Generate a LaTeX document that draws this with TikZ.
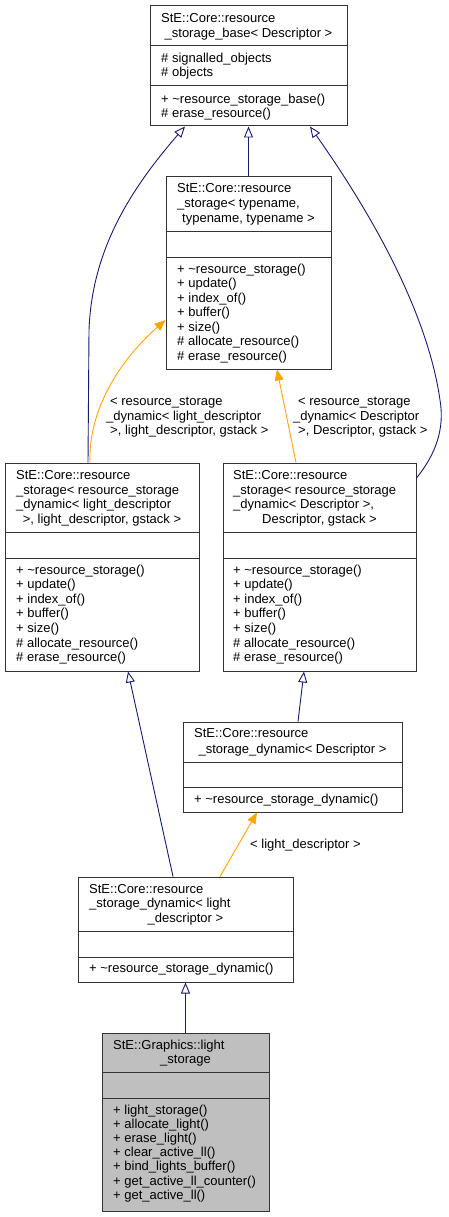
\documentclass[tikz,border=0pt]{standalone}
\usepackage{fontspec}
\setmainfont{Liberation Sans}
\usetikzlibrary{arrows.meta}
\definecolor{edgeblue}{HTML}{191970}
\definecolor{edgeorange}{HTML}{FFA500}
\definecolor{classgray}{HTML}{BFBFBF}
\newcommand{\rsmembers}{+ \textasciitilde resource\_storage(), + update(), + index\_of(), + buffer(), + size(), \# allocate\_resource(), \# erase\_resource()}
\newcommand{\lsmembers}{+ light\_storage(), + allocate\_light(), + erase\_light(), + clear\_active\_ll(), + bind\_lights\_buffer(), + get\_active\_ll\_counter(), + get\_active\_ll()}

\begin{document}
\begin{tikzpicture}[x=1pt,y=-1pt,font=\fontsize{13}{14.5}\selectfont,
  cls/.style={draw=black!80, line width=1pt, fill=white, inner sep=0pt},
  member/.style={anchor=mid west, inner sep=0pt, yshift=-1.5pt},
  ctitle/.style={anchor=mid, inner sep=0pt, yshift=-1.5pt},
  sep/.style={draw=black!80, line width=1pt},
  inh/.style={draw=edgeblue, line width=0.9pt, -{Triangle[open, length=11pt, width=9pt]}},
  tmpl/.style={draw=edgeorange, line width=0.9pt, -{Triangle[length=11pt, width=9pt, fill=edgeorange]}},
  lbl/.style={anchor=west, align=left, inner sep=0pt, yshift=-1.5pt}]
\useasboundingbox (0,0) rectangle (449,1217);

% resource_storage_base
\node[cls, minimum width=197pt, minimum height=120pt] (A) at (248.5,66) {};
\draw[sep] (A.west |- 0,46) -- (A.east |- 0,46);
\draw[sep] (A.west |- 0,86) -- (A.east |- 0,86);
\node[member] (A-t0) at (161,18) {StE::Core::resource};
\node[ctitle] (A-t1) at (248.5,33) {\_storage\_base< Descriptor >};
\node[member] (A-a0) at (161,58) {\# signalled\_objects};
\node[member] (A-a1) at (161,72) {\# objects};
\node[member] (A-m0) at (161,99) {+ \textasciitilde resource\_storage\_base()};
\node[member] (A-m1) at (161,113) {\# erase\_resource()};

% resource_storage< typename, ... >
\node[cls, minimum width=165pt, minimum height=192pt] (B) at (248.5,273) {};
\draw[sep] (B.west |- 0,231) -- (B.east |- 0,231);
\draw[sep] (B.west |- 0,257) -- (B.east |- 0,257);
\node[member] (B-t0) at (177,188) {StE::Core::resource};
\node[member] (B-t1) at (177,203) {\_storage< typename,};
\node[ctitle] (B-t2) at (248.5,218) {typename, typename >};
\foreach \m [count=\i from 0] in \rsmembers
  \node[member] (B-m\i) at (177,{269+14.5*\i}) {\m};

% resource_storage< ..light_descriptor.. >
\node[cls, minimum width=194pt, minimum height=208pt] (C) at (102,567) {};
\draw[sep] (C.west |- 0,532) -- (C.east |- 0,532);
\draw[sep] (C.west |- 0,558) -- (C.east |- 0,558);
\node[member] (C-t0) at (16,475) {StE::Core::resource};
\node[member] (C-t1) at (16,490) {\_storage< resource\_storage};
\node[member] (C-t2) at (16,504) {\_dynamic< light\_descriptor};
\node[ctitle] (C-t3) at (102,519) {>, light\_descriptor, gstack >};
\foreach \m [count=\i from 0] in \rsmembers
  \node[member] (C-m\i) at (16,{570+14.6*\i}) {\m};

% resource_storage< ..Descriptor.. >
\node[cls, minimum width=193pt, minimum height=208pt] (D) at (319.5,567) {};
\draw[sep] (D.west |- 0,532) -- (D.east |- 0,532);
\draw[sep] (D.west |- 0,558) -- (D.east |- 0,558);
\node[member] (D-t0) at (233,475) {StE::Core::resource};
\node[member] (D-t1) at (233,490) {\_storage< resource\_storage};
\node[member] (D-t2) at (233,504) {\_dynamic< Descriptor >,};
\node[ctitle] (D-t3) at (319.5,519) {Descriptor, gstack >};
\foreach \m [count=\i from 0] in \rsmembers
  \node[member] (D-m\i) at (233,{570+14.6*\i}) {\m};

% resource_storage_dynamic< Descriptor >
\node[cls, minimum width=219pt, minimum height=90pt] (E) at (292.5,767) {};
\draw[sep] (E.west |- 0,762) -- (E.east |- 0,762);
\draw[sep] (E.west |- 0,787) -- (E.east |- 0,787);
\node[member] (E-t0) at (194,733) {StE::Core::resource};
\node[ctitle] (E-t1) at (292.5,749) {\_storage\_dynamic< Descriptor >};
\node[member] (E-m0) at (194,799) {+ \textasciitilde resource\_storage\_dynamic()};

% resource_storage_dynamic< light_descriptor >
\node[cls, minimum width=215pt, minimum height=105pt] (F) at (185.5,929.5) {};
\draw[sep] (F.west |- 0,931) -- (F.east |- 0,931);
\draw[sep] (F.west |- 0,957) -- (F.east |- 0,957);
\node[member] (F-t0) at (89,889) {StE::Core::resource};
\node[member] (F-t1) at (89,903) {\_storage\_dynamic< light};
\node[ctitle] (F-t2) at (185.5,918) {\_descriptor >};
\node[member] (F-m0) at (89,968) {+ \textasciitilde resource\_storage\_dynamic()};

% light_storage
\node[cls, fill=classgray, minimum width=167pt, minimum height=178pt] (G) at (185.5,1122) {};
\draw[sep] (G.west |- 0,1072) -- (G.east |- 0,1072);
\draw[sep] (G.west |- 0,1098) -- (G.east |- 0,1098);
\node[member] (G-t0) at (113,1045) {StE::Graphics::light};
\node[ctitle] (G-t1) at (185.5,1059) {\_storage};
\foreach \m [count=\i from 0] in \lsmembers
  \node[member] (G-m\i) at (113,{1110+14.2*\i}) {\m};

% inheritance
\draw[inh] (B.north) -- (A.south);
\draw[inh] ([xshift=-14pt]C.north) -- ([xshift=-13pt]C.north |- 0,330)
  .. controls (92,250) and (130,190) .. (A.south -| 185,0);
\draw[inh] (D.north east |- 0,478) .. controls (435,455) and (445,430) .. (440,400)
  .. controls (430,330) and (390,240) .. (A.south -| 310,0);
\draw[inh] ([xshift=5.5pt]E.north) -- ([xshift=-15.5pt]D.south);
\draw[inh] ([xshift=-12.5pt]F.north) -- ([xshift=26pt]C.south);
\draw[inh] (G.north) -- (F.south);

% template instances
\draw[tmpl] ([xshift=-12pt]C.north) .. controls (88,410) and (120,360) .. (B.west |- 0,320);
\node[lbl] (lblC) at (106,416) {\hspace*{4pt}< resource\_storage\\\_dynamic< light\_descriptor\\\hspace*{4pt}>, light\_descriptor, gstack >};
\draw[tmpl] ([xshift=-23.5pt]D.north) -- ([xshift=28.5pt]B.south);
\node[lbl] (lblD) at (293,416) {\hspace*{5pt}< resource\_storage\\\_dynamic< Descriptor\\\hspace*{5pt}>, Descriptor, gstack >};
\draw[tmpl] ([xshift=34.5pt]F.north) -- ([xshift=-35.5pt]E.south);
\node[lbl] (lblF) at (250,844) {< light\_descriptor >};
\end{tikzpicture}
\end{document}
